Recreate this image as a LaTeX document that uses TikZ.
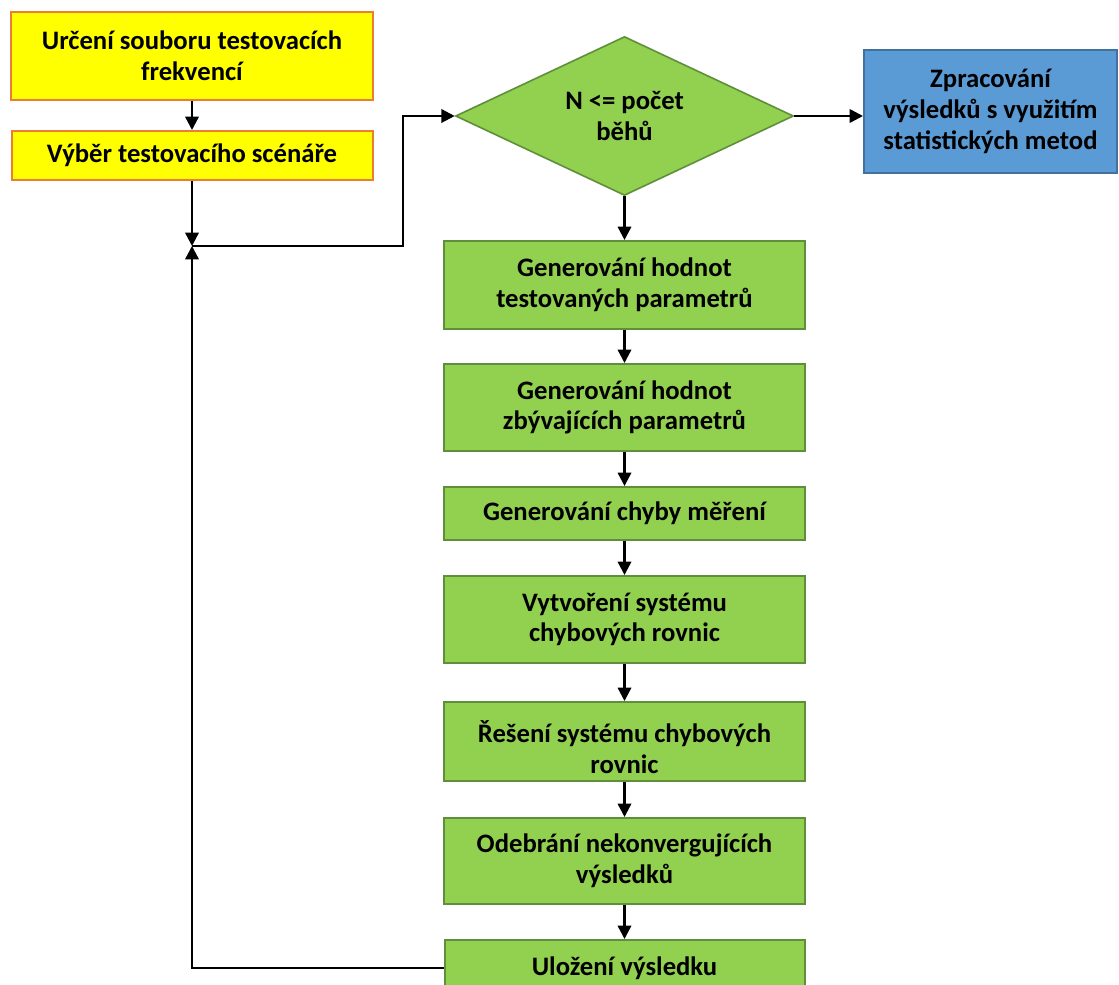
\documentclass[tikz,border=0pt]{standalone}
\usepackage{fontspec}
\setmainfont{Carlito}
\usetikzlibrary{shapes.geometric,arrows.meta}
\definecolor{yfill}{HTML}{FFFF00}
\definecolor{yline}{HTML}{ED7D31}
\definecolor{gfill}{HTML}{92D050}
\definecolor{gline}{HTML}{5F8F3A}
\definecolor{bfill}{HTML}{5B9BD5}
\definecolor{bline}{HTML}{41719C}
\tikzset{
  box/.style={rectangle, line width=1.5pt, inner sep=0pt, align=center,
    font=\fontsize{20}{23}\selectfont\bfseries},
  ybox/.style={box, fill=yfill, draw=yline},
  gbox/.style={box, fill=gfill, draw=gline},
  bbox/.style={box, fill=bfill, draw=bline},
  dec/.style={diamond, shape aspect=2.125, fill=gfill, draw=gline, line width=1.2pt,
    inner sep=0pt, align=center, font=\fontsize{20}{23}\selectfont\bfseries},
  arr/.style={line width=1.8pt, -{Triangle[length=10pt,width=10pt]}},
  sz/.style 2 args={minimum width=#1*0.75pt, minimum height=#2*0.75pt}
}
\begin{document}
\begin{tikzpicture}[x=0.75pt, y=-0.75pt]
  \useasboundingbox (0,0) rectangle (1119,984);
  \clip (0,0) rectangle (1119,984);
  \fill[white] (0,0) rectangle (1119,984);

  % preparation steps
  \node[ybox, sz={362}{88}] (b1) at (192,56) {Určení souboru testovacích\\frekvencí};
  \node[ybox, sz={361}{49}] (b2) at (192,155.5) {Výběr testovacího scénáře};

  % loop condition and final processing
  \node[dec, sz={338}{159}] (dia) at (624.5,116) {N <= počet\\běhů};
  \node[bbox, sz={253}{123}] (res) at (990.5,111.5) {Zpracování\\výsledků s využitím\\statistických metod};

  % body of the loop
  \node[gbox, sz={361}{88}] (g1) at (624.5,285) {Generování hodnot\\testovaných parametrů};
  \node[gbox, sz={361}{87}] (g2) at (624.5,407.5) {Generování hodnot\\zbývajících parametrů};
  \node[gbox, sz={361}{53}] (g3) at (624.5,513.5) {Generování chyby měření};
  \node[gbox, sz={361}{87}] (g4) at (624.5,619.5) {Vytvoření systému\\chybových rovnic};
  \node[gbox, sz={361}{79}] (g5) at (624.5,741.5) {\rule{0pt}{25pt}Řešení systému chybových\\rovnic};
  \node[gbox, sz={361}{86}] (g6) at (624.5,861) {Odebrání nekonvergujících\\výsledků};
  \node[gbox, sz={360}{56}] (g7) at (624.5,968) {Uložení výsledku};

  % junction where the loop re-enters
  \coordinate (J) at (192,246);

  % connectors
  \draw[arr] (b1.south) -- (b2.north);
  \draw[arr] (b2.south) -- (J);
  \draw[arr] (J) -- (403,246) |- (dia.west);
  \draw[arr] (dia.east) -- (dia.east -| res.west);
  \draw[arr] (dia.south) -- (g1.north);
  \draw[arr] (g1.south) -- (g2.north);
  \draw[arr] (g2.south) -- (g3.north);
  \draw[arr] (g3.south) -- (g4.north);
  \draw[arr] (g4.south) -- (g5.north);
  \draw[arr] (g5.south) -- (g6.north);
  \draw[arr] (g6.south) -- (g7.north);
  \draw[arr] (g7.west) -| (J);
\end{tikzpicture}
\end{document}
